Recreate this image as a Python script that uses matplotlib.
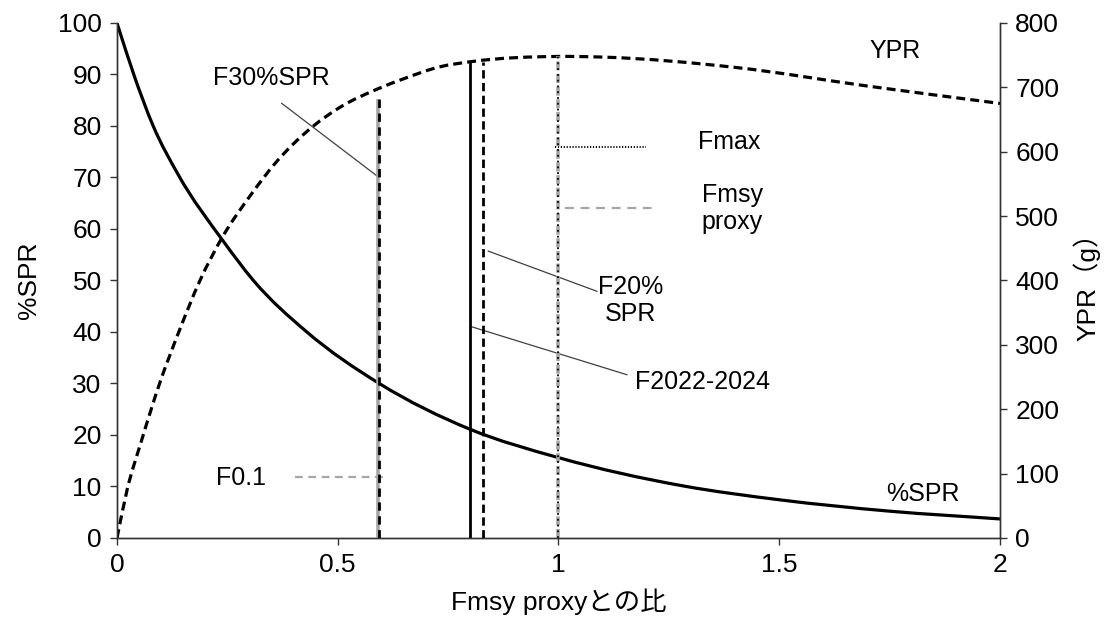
import numpy as np
import matplotlib.pyplot as plt
from matplotlib.path import Path
from matplotlib.patches import PathPatch

plt.rcParams['font.family'] = ['Liberation Sans', 'Noto Sans CJK JP', 'DejaVu Sans']

# %SPR curve (left axis)
f_spr = [0, 0.038, 0.082, 0.139, 0.241, 0.309, 0.43, 0.594, 0.8, 1.0, 1.283, 1.502, 1.751, 2.0]
spr = [100, 90, 80, 70.5, 57.6, 50, 40, 30, 21.1, 15.6, 10.1, 7.4, 5.2, 3.7]

# YPR curve in grams (right axis)
f_ypr = [0, 0.023, 0.055, 0.097, 0.14, 0.188, 0.241, 0.3, 0.362, 0.445, 0.505, 0.592, 0.648, 0.732, 0.803, 1.0, 1.1, 1.4, 1.7, 2.0]
ypr = [0, 75, 150, 241, 320, 400, 470, 530, 585, 640, 669, 698, 713, 732, 740, 748, 747, 731, 702, 675]

# reference points: F ratio and the YPR height each vertical line reaches
f01 = 0.591
f30 = 0.593
f2022 = 0.80
f20 = 0.83
fmax = 1.0
fmsy = 1.0
top_f01 = 682
top_f30 = 682
top_f2022 = 740
top_f20 = 739
top_fmax = 748

grey = '#a6a6a6'
fs = 18
fs_tick = 19


def smooth_line(ax, x, y, **kw):
    # cubic Hermite through the points (x increasing), drawn as Bezier segments
    x = np.asarray(x, float)
    y = np.asarray(y, float)
    h = np.diff(x)
    d = np.diff(y) / h
    m = np.empty_like(y)
    m[0], m[-1] = d[0], d[-1]
    m[1:-1] = (d[:-1] * h[1:] + d[1:] * h[:-1]) / (h[:-1] + h[1:])
    verts = [(x[0], y[0])]
    codes = [Path.MOVETO]
    for i in range(len(x) - 1):
        verts += [(x[i] + h[i] / 3, y[i] + m[i] * h[i] / 3),
                  (x[i + 1] - h[i] / 3, y[i + 1] - m[i + 1] * h[i] / 3),
                  (x[i + 1], y[i + 1])]
        codes += [Path.CURVE4] * 3
    ax.add_patch(PathPatch(Path(verts, codes), fill=False, capstyle='butt', **kw))


fig = plt.figure(figsize=(11.11, 6.26), dpi=100)
ax = fig.add_axes([0.1053, 0.1406, 0.7948, 0.8227])
ax2 = ax.twinx()

# vertical reference lines
ax2.plot([f01, f01], [0, top_f01], color=grey, lw=2.6, solid_capstyle='butt')
ax2.plot([f30, f30], [0, top_f30], color='black', lw=2, dashes=(3, 2))
ax2.plot([f2022, f2022], [0, top_f2022], color='black', lw=2, solid_capstyle='butt')
ax2.plot([f20, f20], [0, top_f20], color='black', lw=2, dashes=(3, 1.6))
ax2.plot([fmsy, fmsy], [0, top_fmax], color=grey, lw=2.6, dashes=(2.5, 1.0))
ax2.plot([fmax, fmax], [0, top_fmax], color='black', lw=1.3, dashes=(1, 2.2))

# curves
smooth_line(ax, f_spr, spr, edgecolor='black', lw=2.3)
smooth_line(ax2, f_ypr, ypr, edgecolor='black', lw=2.3, linestyle=(0, (2.8, 1.6)))

# little key lines next to labels
ax.plot([0.403, 0.607], [11.8, 11.8], color=grey, lw=1.6, dashes=(3.5, 2.5))
ax.plot([0.992, 1.198], [75.9, 75.9], color='black', lw=1.4, dashes=(0.6, 0.9))
ax.plot([1.015, 1.223], [64.1, 64.1], color=grey, lw=1.6, dashes=(4, 3))

# leader lines
lead = dict(color='#404040', lw=0.9)
ax.plot([0.373, 0.592], [84.4, 70.1], **lead)
ax.plot([0.841, 1.087], [55.7, 47.9], **lead)
ax.plot([0.80, 1.155], [41.1, 31.7], **lead)

# labels
ax.text(0.349, 89.4, 'F30%SPR', fontsize=fs, ha='center', va='center')
ax.text(0.281, 11.7, 'F0.1', fontsize=fs, ha='center', va='center')
ax.text(1.386, 76.9, 'Fmax', fontsize=fs, ha='center', va='center')
ax.text(1.393, 64.0, 'Fmsy\nproxy', fontsize=fs, ha='center', va='center', linespacing=1.15)
ax.text(1.164, 46.1, 'F20%\nSPR', fontsize=fs, ha='center', va='center', linespacing=1.15)
ax.text(1.173, 30.2, 'F2022-2024', fontsize=fs, ha='left', va='center')
ax.text(1.762, 94.6, 'YPR', fontsize=fs, ha='center', va='center')
ax.text(1.826, 8.6, '%SPR', fontsize=fs, ha='center', va='center')

ax.set_xlim(0, 2)
ax.set_ylim(0, 100)
ax2.set_ylim(0, 800)
ax.set_xticks([0, 0.5, 1, 1.5, 2])
ax.set_xticklabels(['0', '0.5', '1', '1.5', '2'])
ax.set_yticks(range(0, 101, 10))
ax2.set_yticks(range(0, 801, 100))

for a in (ax, ax2):
    a.spines['top'].set_visible(False)
    for s in a.spines.values():
        s.set_linewidth(1)
        s.set_color('#333333')
    a.tick_params(direction='out', length=5, width=1, color='#333333', labelsize=fs_tick, pad=6)

ax.set_xlabel('Fmsy proxyとの比', fontsize=fs_tick, labelpad=8)
ax.set_ylabel('%SPR', fontsize=fs_tick, labelpad=12)
ax2.set_ylabel('YPR（g）', fontsize=fs_tick, labelpad=10)

fig.savefig('out.png', dpi=100)
